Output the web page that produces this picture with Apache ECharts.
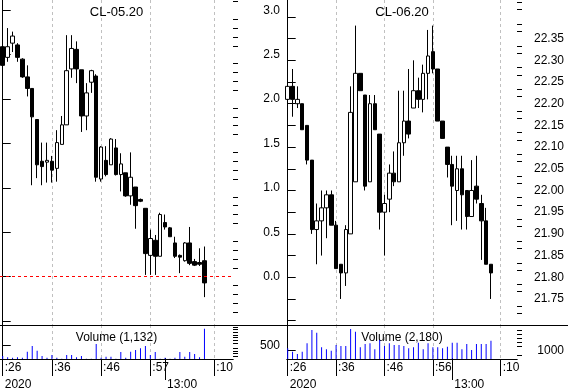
<!DOCTYPE html>
<html><head><meta charset="utf-8">
<script src="https://cdn.jsdelivr.net/npm/echarts@6/dist/echarts.min.js"></script>
<style>html,body{margin:0;padding:0;background:#fff}#c{width:568px;height:391px}</style>
</head><body><div id="c"></div>
<script>
// ---- x axis (bar index) labels ----
const leftLabelIdx = [0, 10, 20, 30, 43];
const leftLabels = [':26', ':36', ':46', ':57', ':10'];
const rightLabelIdx = [0, 10, 20, 30, 44];
const rightLabels = [':26', ':36', ':46', ':56', ':10'];
const leftDateIdx = [0, 33];
const rightDateIdx = [0, 34];
const dateLabels = ['2020', '13:00'];

// ---- price axis ticks ----
const leftPriceTicks = [-0.5, 0, 0.5, 1, 1.5, 2, 2.5, 3];
const leftPriceLabels = [0, 0.5, 1, 1.5, 2, 2.5, 3];
const leftPriceMinor = [-0.4, -0.3, -0.2, -0.1, 0.1, 0.2, 0.3, 0.4, 0.6, 0.7, 0.8, 0.9, 1.1, 1.2, 1.3, 1.4, 1.6, 1.7, 1.8, 1.9, 2.1, 2.2, 2.3, 2.4, 2.6, 2.7, 2.8, 2.9, 3.1];
const rightPriceTicks = [21.70, 21.75, 21.80, 21.85, 21.90, 21.95, 22.00, 22.05, 22.10, 22.15, 22.20, 22.25, 22.30, 22.35, 22.40];
const rightPriceLabels = [21.75, 21.80, 21.85, 21.90, 21.95, 22.00, 22.05, 22.10, 22.15, 22.20, 22.25, 22.30, 22.35];
const rightPriceMinor = [21.7167, 21.7333, 21.7667, 21.7833, 21.8167, 21.8333, 21.8667, 21.8833, 21.9167, 21.9333, 21.9667, 21.9833, 22.0167, 22.0333, 22.0667, 22.0833, 22.1167, 22.1333, 22.1667, 22.1833, 22.2167, 22.2333, 22.2667, 22.2833, 22.3167, 22.3333, 22.3667, 22.3833, 22.4167, 22.4333];
const leftVolLabels = [500];
const leftVolMinor = [100, 200, 300, 400, 600, 700, 800, 900, 1000, 1100, 1200];
const rightVolLabels = [1000];
const rightVolMinor = [500, 1500, 2000, 2500, 3000, 3500, 4000];

// ---- CL-05.20 candles: [open, close, low, high] ----
const cl05 = [
  [2.59, 2.38, 2.27, 2.74], [2.47, 2.59, 2.42, 2.80], [2.63, 2.71, 2.53, 2.76], [2.61, 2.47, 2.42, 2.63],
  [2.45, 2.25, 2.24, 2.46], [2.25, 2.12, 2.03, 2.38], [2.12, 1.80, 1.03, 2.12], [1.77, 1.26, 1.11, 1.77],
  [1.30, 1.24, 1.03, 1.51], [1.29, 1.31, 1.06, 1.51], [1.30, 1.20, 1.06, 1.36], [1.22, 1.51, 1.07, 1.65],
  [1.49, 1.71, 1.49, 1.81], [1.71, 2.32, 1.71, 2.72], [2.34, 2.57, 2.24, 2.72], [2.56, 2.34, 2.18, 2.65],
  [2.33, 1.81, 1.63, 2.33], [1.81, 2.07, 1.65, 2.18], [2.19, 2.32, 2.07, 2.33], [2.26, 1.12, 1.07, 2.28],
  [1.10, 1.46, 1.07, 1.47], [1.31, 1.15, 1.13, 1.47], [1.26, 1.55, 1.26, 1.56], [1.45, 1.15, 1.14, 1.55],
  [1.15, 1.27, 0.96, 1.39], [1.17, 0.91, 0.90, 1.17], [0.91, 1.12, 0.81, 1.40], [1.01, 0.80, 0.54, 1.01],
  [0.87, 0.85, 0.84, 0.88], [0.77, 0.26, 0.02, 0.77], [0.24, 0.43, 0.02, 0.53], [0.41, 0.23, 0.02, 0.47],
  [0.23, 0.70, 0.23, 0.72], [0.61, 0.56, 0.53, 0.70], [0.55, 0.45, 0.45, 0.56], [0.38, 0.23, 0.21, 0.45],
  [0.24, 0.22, 0.04, 0.25], [0.18, 0.38, 0.17, 0.39], [0.38, 0.15, 0.13, 0.56], [0.17, 0.13, 0.12, 0.20],
  [0.16, 0.14, 0.12, 0.32], [0.18, -0.07, -0.23, 0.34]
];
const vol05 = [110, 64, 50, 64, 50, 275, 490, 310, 110, 50, 150, 50, 10, 150, 150, 64, 110, 10, 10, 560,
  50, 88, 88, 10, 260, 50, 275, 340, 400, 490, 150, 260, 10, 50, 10, 50, 260, 88, 260, 190, 64, 1132];

// ---- CL-06.20 candles: [open, close, low, high] ----
const cl06 = [
  [22.21, 22.24, 22.19, 22.35], [22.24, 22.21, 22.17, 22.28], [22.20, 22.21, 22.19, 22.24], [22.20, 22.14, 22.14, 22.20],
  [22.15, 22.07, 22.06, 22.15], [22.07, 21.91, 21.90, 22.07], [21.91, 21.93, 21.83, 21.97], [21.93, 21.96, 21.85, 22.00],
  [21.96, 21.99, 21.89, 22.00], [21.99, 21.92, 21.92, 22.00], [21.92, 21.82, 21.82, 21.93], [21.83, 21.81, 21.75, 21.83],
  [21.81, 21.91, 21.78, 21.92], [21.90, 22.18, 21.90, 22.24], [22.02, 22.27, 22.02, 22.38], [22.27, 22.23, 22.23, 22.27],
  [22.22, 22.01, 22.00, 22.22], [22.02, 22.20, 22.02, 22.22], [22.20, 22.14, 22.14, 22.22], [22.13, 21.95, 21.91, 22.13],
  [21.95, 21.97, 21.85, 21.99], [21.98, 22.04, 21.95, 22.06], [22.04, 22.02, 22.01, 22.09], [22.02, 22.11, 22.02, 22.23],
  [22.11, 22.16, 22.08, 22.23], [22.16, 22.13, 22.12, 22.28], [22.19, 22.23, 22.19, 22.30], [22.23, 22.21, 22.19, 22.26],
  [22.21, 22.27, 22.18, 22.29], [22.27, 22.31, 22.21, 22.37], [22.32, 22.28, 22.27, 22.38], [22.28, 22.16, 22.16, 22.28],
  [22.16, 22.12, 22.12, 22.16], [22.10, 22.06, 22.03, 22.10], [22.06, 22.01, 21.92, 22.08], [22.00, 22.05, 21.93, 22.08],
  [22.05, 21.99, 21.91, 22.08], [22.00, 21.94, 21.91, 22.00], [21.94, 22.00, 21.94, 22.07], [22.01, 21.98, 21.97, 22.08],
  [21.97, 21.93, 21.84, 21.99], [21.93, 21.83, 21.83, 21.96], [21.83, 21.81, 21.75, 21.83]
];
const vol06 = [1280, 880, 600, 880, 1880, 3480, 3160, 1400, 1160, 1000, 1680, 1560, 1560, 3600, 3280, 1400, 1800, 1880,
  1160, 2280, 1560, 1880, 1680, 1680, 1560, 1280, 1400, 1960, 1160, 1880, 1400, 1400, 1280, 1480, 1960, 1960, 1160,
  1800, 1080, 1800, 1800, 1800, 2180];

const FONT = 'Liberation Sans, Arial, sans-serif';
const GRID_GRAY = '#c0c0c0';

function panelX(gridBase, min, max, labelIdx, labels, dateIdx, title, volTitle) {
  const fmt = (idx, arr) => v => { const k = idx.indexOf(Math.round(v)); return k >= 0 ? arr[k] : ''; };
  const hide = { axisLine: { show: false }, axisTick: { show: false }, axisLabel: { show: false } };
  return [
    { // price area: title + dashed verticals
      type: 'value', gridIndex: gridBase, min, max, position: 'top',
      axisLine: { show: false }, axisLabel: { show: false },
      axisTick: { show: false, customValues: labelIdx },
      splitLine: { show: true, lineStyle: { color: GRID_GRAY, type: [3, 3], width: 1 } },
      name: title, nameLocation: 'middle', nameGap: -12,
      nameTextStyle: { fontFamily: FONT, fontSize: 13, color: '#000', verticalAlign: 'middle' }
    },
    { // volume area row 1
      type: 'value', gridIndex: gridBase + 1, min, max, position: 'bottom',
      axisLine: { show: true, lineStyle: { color: '#000', width: 1 } },
      axisTick: { show: true, customValues: labelIdx, length: 17, lineStyle: { color: '#000' } },
      axisLabel: { show: true, customValues: labelIdx, formatter: fmt(labelIdx, labels), align: 'left',
        margin: 3, padding: [0, 0, 0, 2], fontFamily: FONT, fontSize: 12, color: '#000' },
      splitLine: { show: true, lineStyle: { color: GRID_GRAY, type: [3, 3], width: 1 } }
    },
    { // row 2
      type: 'value', gridIndex: gridBase + 1, min, max, position: 'bottom', offset: 17,
      axisLine: { show: true, lineStyle: { color: '#000', width: 1 } },
      axisTick: { show: true, customValues: [dateIdx[0]], length: 15, lineStyle: { color: '#000' } },
      axisLabel: { show: true, customValues: dateIdx, formatter: fmt(dateIdx, dateLabels), align: 'left',
        margin: 3, padding: [0, 0, 0, 2], fontFamily: FONT, fontSize: 12, color: '#000' },
      splitLine: { show: false }
    },
    { // hour tick crossing rows
      type: 'value', gridIndex: gridBase + 1, min, max, position: 'bottom', offset: 21,
      axisLine: { show: false }, axisLabel: { show: false },
      axisTick: { show: true, inside: true, customValues: [dateIdx[1]], length: 22, lineStyle: { color: '#000' } },
      splitLine: { show: false }
    },
    { // volume title
      type: 'value', gridIndex: gridBase + 1, min, max, position: 'top', ...hide, splitLine: { show: false },
      name: volTitle, nameLocation: 'middle', nameGap: -13,
      nameTextStyle: { fontFamily: FONT, fontSize: 12, color: '#000', verticalAlign: 'middle' }
    }
  ];
}

function panelY(gridBase, width, pmin, pmax, pTicks, pLabels, pMinor, pDigits, vmax, vLabels, vMinor) {
  const lab = { show: true, align: 'right', margin: 47, fontFamily: FONT, fontSize: 12, color: '#000' };
  // minor tick axes sit on the same right edge (left-position axis shifted by the grid width, ticks inward = rightward)
  const minor = (gi, min, max, vals) => ({ type: 'value', gridIndex: gi, position: 'left', offset: -width, min, max,
      axisLine: { show: false }, axisLabel: { show: false },
      axisTick: { show: true, inside: true, customValues: vals, length: 5, lineStyle: { color: '#000' } },
      splitLine: { show: false } });
  return [
    { type: 'value', gridIndex: gridBase, position: 'right', min: pmin, max: pmax,
      axisLine: { show: true, lineStyle: { color: '#000' } },
      axisTick: { show: true, customValues: pTicks, length: 8, lineStyle: { color: '#000' } },
      axisLabel: { ...lab, customValues: pLabels, formatter: v => Number(v).toFixed(pDigits) },
      splitLine: { show: false } },
    minor(gridBase, pmin, pmax, pMinor),
    { type: 'value', gridIndex: gridBase + 1, position: 'right', min: 0, max: vmax,
      axisLine: { show: true, lineStyle: { color: '#000' } },
      axisTick: { show: true, customValues: vLabels, length: 8, lineStyle: { color: '#000' } },
      axisLabel: { ...lab, customValues: vLabels, formatter: v => String(Math.round(v)) },
      splitLine: { show: false } },
    minor(gridBase + 1, 0, vmax, vMinor)
  ];
}

const xAxes = [
  ...panelX(0, -0.55, 46.8, leftLabelIdx, leftLabels, leftDateIdx, 'CL-05.20', 'Volume (1,132)'),
  ...panelX(2, -0.145, 47.38, rightLabelIdx, rightLabels, rightDateIdx, 'CL-06.20', 'Volume (2,180)'),
  { type: 'value', gridIndex: 4, min: 0, max: 1, position: 'bottom',
    axisLine: { show: true, lineStyle: { color: '#000' } }, axisTick: { show: false }, axisLabel: { show: false }, splitLine: { show: false } }
];
const yAxes = [
  ...panelY(0, 233, -0.544, 3.116, leftPriceTicks, leftPriceLabels, leftPriceMinor, 1, 1275, leftVolLabels, leftVolMinor),
  ...panelY(2, 230, 21.690, 22.439, rightPriceTicks, rightPriceLabels, rightPriceMinor, 2, 4080, rightVolLabels, rightVolMinor),
  { type: 'value', gridIndex: 4, show: false, min: 0, max: 1 }
];

const candleStyle = { color: '#ffffff', color0: '#000000', borderColor: '#000000', borderColor0: '#000000', borderWidth: 1 };
const G = { containLabel: false, outerBoundsMode: 'none' };

const option = {
  animation: false,
  backgroundColor: '#ffffff',
  grid: [
    { ...G, left: 0, top: 0, width: 233, height: 325 },
    { ...G, left: 0, top: 325, width: 233, height: 34 },
    { ...G, left: 287, top: 0, width: 230, height: 325 },
    { ...G, left: 287, top: 325, width: 230, height: 34 },
    { ...G, left: 0, top: 0, width: 568, height: 325 }
  ],
  xAxis: xAxes,
  yAxis: yAxes,
  series: [
    { type: 'candlestick', xAxisIndex: 0, yAxisIndex: 0, barWidth: 4, itemStyle: candleStyle,
      data: cl05.map((d, i) => [i, d[0], d[1], d[2], d[3]]),
      markLine: { symbol: 'none', silent: true, label: { show: false },
        lineStyle: { color: '#ff0000', type: [3, 3], width: 1 }, data: [{ yAxis: 0 }] } },
    { type: 'bar', xAxisIndex: 1, yAxisIndex: 2, barWidth: 1, itemStyle: { color: '#0000ff' },
      data: vol05.map((v, i) => [i, v]) },
    { type: 'candlestick', xAxisIndex: 5, yAxisIndex: 4, barWidth: 4, itemStyle: candleStyle,
      data: cl06.map((d, i) => [i, d[0], d[1], d[2], d[3]]) },
    { type: 'bar', xAxisIndex: 6, yAxisIndex: 6, barWidth: 1, itemStyle: { color: '#0000ff' },
      data: vol06.map((v, i) => [i, v]) }
  ]
};
const chart = echarts.init(document.getElementById('c'), null, { renderer: 'canvas' });
chart.setOption(option);
</script>
</body></html>
